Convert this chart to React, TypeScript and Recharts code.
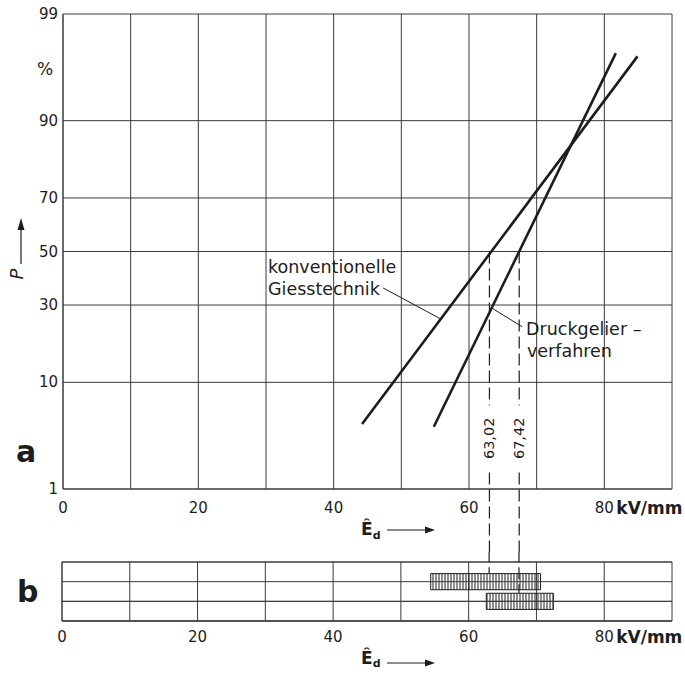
import React from 'react';
import {
  ComposedChart,
  Line,
  XAxis,
  YAxis,
  CartesianGrid,
  ReferenceLine,
  ReferenceDot,
  ReferenceArea,
} from 'recharts';

// probability scale ticks (%)
const yTickPercents = [1, 10, 30, 50, 70, 90, 99];
const xGridTicks = [0, 10, 20, 30, 40, 50, 60, 70, 80, 90];
const xLabelTicks = [0, 20, 40, 60, 80];

// konventionelle Giesstechnik (end points of the fitted line)
const convE = [44.2, 84.9];
const convP = [4.55, 97.2];
// Druckgelierverfahren
const druckE = [54.8, 81.7];
const druckP = [4.3, 97.4];

// 50 % values
const medianE = [63.02, 67.42];
const medianLabels = ['63,02', '67,42'];

// panel b: scatter ranges
const bandRow = [2, 1];
const bandFrom = [54.4, 62.6];
const bandTo = [70.6, 72.5];
const bRowTicks = [0, 1, 2, 3];

// inverse normal cdf (Acklam)
function probit(pct: number): number {
  const p = pct / 100;
  const a = [-39.69683028665376, 220.9460984245205, -275.9285104469687, 138.357751867269, -30.66479806614716, 2.506628277459239];
  const b = [-54.47609879822406, 161.5858368580409, -155.6989798598866, 66.80131188771972, -13.28068155288572];
  const c = [-0.007784894002430293, -0.3223964580411365, -2.400758277161838, -2.549732539343734, 4.374664141464968, 2.938163982698783];
  const d = [0.007784695709041462, 0.3224671290700398, 2.445134137142996, 3.754408661907416];
  const pl = 0.02425;
  if (p < pl) {
    const q = Math.sqrt(-2 * Math.log(p));
    return (((((c[0] * q + c[1]) * q + c[2]) * q + c[3]) * q + c[4]) * q + c[5]) / ((((d[0] * q + d[1]) * q + d[2]) * q + d[3]) * q + 1);
  }
  if (p > 1 - pl) {
    const q = Math.sqrt(-2 * Math.log(1 - p));
    return -(((((c[0] * q + c[1]) * q + c[2]) * q + c[3]) * q + c[4]) * q + c[5]) / ((((d[0] * q + d[1]) * q + d[2]) * q + d[3]) * q + 1);
  }
  const q = p - 0.5;
  const r = q * q;
  return ((((((a[0] * r + a[1]) * r + a[2]) * r + a[3]) * r + a[4]) * r + a[5]) * q) / (((((b[0] * r + b[1]) * r + b[2]) * r + b[3]) * r + b[4]) * r + 1);
}

const convData = convE.map((E, i) => ({ E, z: probit(convP[i]) }));
const druckData = druckE.map((E, i) => ({ E, z: probit(druckP[i]) }));

const yTicks = yTickPercents.map(probit);
const zMin = probit(1);
const zMax = probit(99);
const zFloor = zMin - 0.8; // dashed drop lines run on below the frame
const labelZ = -1.83;
const BAND_HALF = 0.41; // half height of a range bar in row units

const INK = '#1d1d1d';
const GRID = '#3a3a3a';
const FONT = '"DejaVu Sans", sans-serif';

const XTick = (props: any) => {
  const { x, y, payload, off } = props;
  const v = payload.value;
  if (!xLabelTicks.includes(v)) return null;
  if (v === 80) {
    return (
      <g>
        <text x={x} y={y + off} textAnchor="middle" fontFamily={FONT} fontSize={15} fill={INK}>{v}</text>
        <text x={x + 12} y={y + off + 1} fontFamily={FONT} fontWeight="bold" fontSize={17} fill={INK}>kV/mm</text>
      </g>
    );
  }
  return (
    <text x={x} y={y + off} textAnchor="middle" fontFamily={FONT} fontSize={15} fill={INK}>{v}</text>
  );
};

const YTick = (props: any) => {
  const { x, y, payload } = props;
  const idx = yTicks.findIndex((t) => Math.abs(t - payload.value) < 1e-6);
  if (idx < 0) return null;
  return (
    <text x={x} y={y + 5} textAnchor="end" fontFamily={FONT} fontSize={15} fill={INK}>
      {yTickPercents[idx]}
    </text>
  );
};

const NoTick = () => <g />;

const medianLabel = (label: string) => (p: any) => (
  <g>
    <rect x={p.cx - 8} y={p.cy - 33} width={16} height={66} fill="#fff" />
    <text
      x={p.cx}
      y={p.cy + 5}
      transform={`rotate(-90, ${p.cx}, ${p.cy})`}
      textAnchor="middle"
      fontFamily={FONT}
      fontSize={14.5}
      fill={INK}
    >
      {label}
    </text>
  </g>
);

const Arrow = ({ x1, x2, y }: { x1: number; x2: number; y: number }) => (
  <g>
    <line x1={x1} y1={y} x2={x2 - 7} y2={y} stroke={INK} strokeWidth={1.2} />
    <polygon points={`${x2},${y} ${x2 - 10},${y - 3.5} ${x2 - 10},${y + 3.5}`} fill={INK} />
  </g>
);

export default function App() {
  return (
    <div style={{ position: 'absolute', left: 0, top: 0, width: 685, height: 675, background: '#fff' }}>
      <div style={{ position: 'absolute', left: 0, top: 0 }}>
        <ComposedChart width={685} height={552} margin={{ top: 14, right: 13, bottom: 33, left: 0 }}>
          <CartesianGrid stroke={GRID} strokeWidth={1} />
          <XAxis
            type="number"
            dataKey="E"
            domain={[0, 90]}
            ticks={xGridTicks}
            allowDataOverflow
            height={30}
            tickSize={0}
            tickMargin={0}
            axisLine={{ stroke: GRID }}
            tick={<XTick off={24} />}
          />
          <YAxis
            type="number"
            dataKey="z"
            domain={[zMin, zMax]}
            ticks={yTicks}
            allowDataOverflow
            width={63}
            tickSize={0}
            tickMargin={5}
            axisLine={{ stroke: GRID }}
            tick={<YTick />}
          />
          {medianE.map((E) => (
            <ReferenceLine
              key={E}
              segment={[{ x: E, y: 0 }, { x: E, y: zFloor }]}
              stroke={INK}
              strokeWidth={1.2}
              strokeDasharray="12 5"
              ifOverflow="visible"
            />
          ))}
          {medianE.map((E, i) => (
            <ReferenceDot key={'l' + E} x={E} y={labelZ} r={0} shape={medianLabel(medianLabels[i])} />
          ))}
          <ReferenceLine segment={[{ x: 47.3, y: -0.357 }, { x: 55.8, y: -0.66 }]} stroke={INK} strokeWidth={1} ifOverflow="visible" />
          <ReferenceLine segment={[{ x: 63.35, y: -0.553 }, { x: 67.86, y: -0.737 }]} stroke={INK} strokeWidth={1} ifOverflow="visible" />
          <Line data={convData} dataKey="z" stroke={INK} strokeWidth={2.6} dot={false} isAnimationActive={false} />
          <Line data={druckData} dataKey="z" stroke={INK} strokeWidth={2.6} dot={false} isAnimationActive={false} />
        </ComposedChart>
      </div>

      <div style={{ position: 'absolute', left: 0, top: 552 }}>
        <ComposedChart width={685} height={123} margin={{ top: 10, right: 13, bottom: 24, left: 0 }}>
          <defs>
            <pattern id="hatch" width="3" height="4" patternUnits="userSpaceOnUse">
              <line x1="1" y1="0" x2="1" y2="4" stroke={INK} strokeWidth={1} />
            </pattern>
          </defs>
          <CartesianGrid stroke={GRID} strokeWidth={1} />
          <XAxis
            type="number"
            dataKey="E"
            domain={[0, 90]}
            ticks={xGridTicks}
            allowDataOverflow
            height={30}
            tickSize={0}
            tickMargin={0}
            axisLine={{ stroke: GRID }}
            tick={<XTick off={21} />}
          />
          <YAxis
            type="number"
            domain={[0, 3]}
            ticks={bRowTicks}
            allowDataOverflow
            width={62}
            tick={<NoTick />}
            tickLine={false}
            axisLine={{ stroke: GRID }}
          />
          {bRowTicks.map((t) => (
            <ReferenceLine key={'r' + t} y={t} stroke={GRID} strokeWidth={1} />
          ))}
          {medianE.map((E, i) => (
            <ReferenceLine
              key={E}
              segment={[{ x: E, y: 3.6 }, { x: E, y: bandRow[i] + BAND_HALF }]}
              stroke={INK}
              strokeWidth={1.2}
              strokeDasharray="12 5"
              ifOverflow="visible"
            />
          ))}
          {bandRow.map((row, i) => (
            <ReferenceArea
              key={row}
              x1={bandFrom[i]}
              x2={bandTo[i]}
              y1={row - BAND_HALF}
              y2={row + BAND_HALF}
              fill="url(#hatch)"
              fillOpacity={1}
              stroke={INK}
              strokeWidth={1}
              strokeOpacity={1}
            />
          ))}
        </ComposedChart>
      </div>

      <svg width={685} height={675} style={{ position: 'absolute', left: 0, top: 0, pointerEvents: 'none' }}>
        <text x={45} y={75} textAnchor="middle" fontFamily={FONT} fontSize={17} fill={INK}>%</text>
        <line x1={21} y1={264} x2={21} y2={228} stroke={INK} strokeWidth={1.2} />
        <polygon points="21,218 17.5,230 24.5,230" fill={INK} />
        <text x={17} y={274} transform="rotate(-90, 17, 274)" dy={6} textAnchor="middle" fontFamily={FONT} fontStyle="italic" fontSize={18} fill={INK}>P</text>

        <text x={16} y={462} fontFamily={FONT} fontWeight="bold" fontSize={30} fill={INK}>a</text>
        <text x={17} y={602} fontFamily={FONT} fontWeight="bold" fontSize={30} fill={INK}>b</text>

        <text x={268} y={273} fontFamily={FONT} fontSize={17.5} fill={INK}>konventionelle</text>
        <text x={268} y={295} fontFamily={FONT} fontSize={17.5} fill={INK}>Giesstechnik</text>
        <text x={526} y={335} fontFamily={FONT} fontSize={17.5} fill={INK}>Druckgelier –</text>
        <text x={527} y={357} fontFamily={FONT} fontSize={17.5} fill={INK}>verfahren</text>

        <text x={361} y={535} fontFamily={FONT} fontWeight="bold" fontSize={17} fill={INK}>
          Ê<tspan fontSize={11} dy={4}>d</tspan>
        </text>
        <Arrow x1={387} x2={435} y={530} />
        <text x={361} y={664} fontFamily={FONT} fontWeight="bold" fontSize={17} fill={INK}>
          Ê<tspan fontSize={11} dy={3}>d</tspan>
        </text>
        <Arrow x1={387} x2={435} y={663} />
      </svg>
    </div>
  );
}
